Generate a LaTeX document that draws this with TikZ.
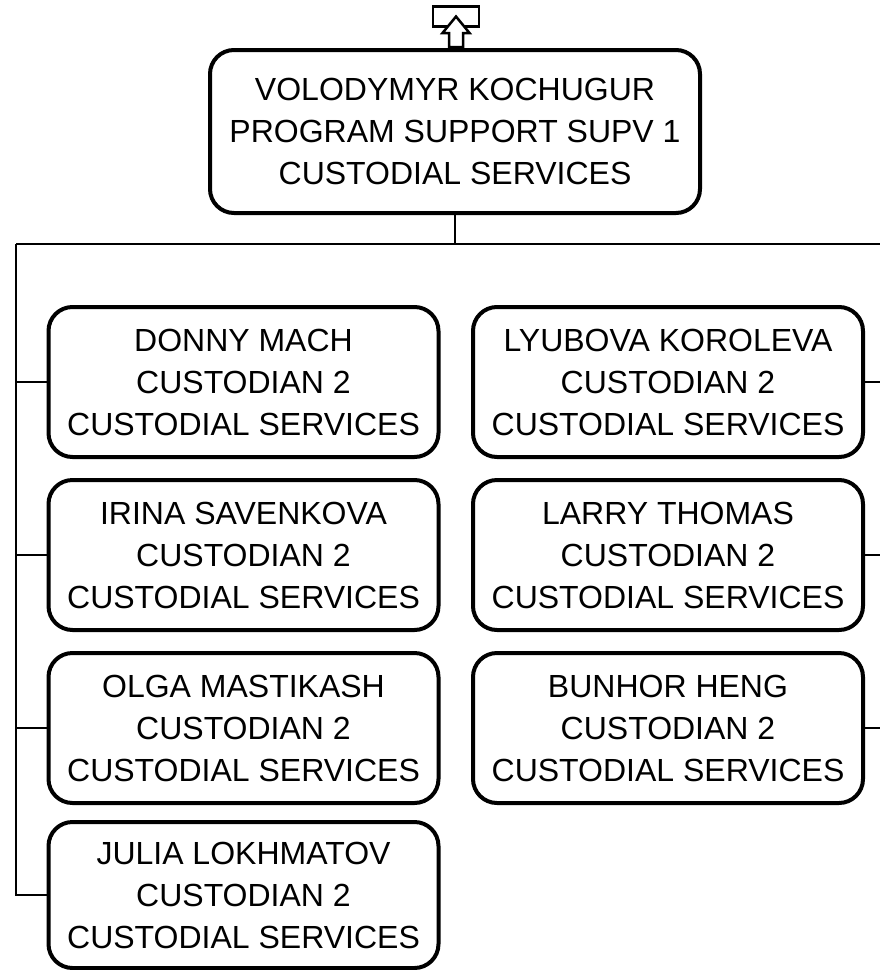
\documentclass[tikz,border=0pt]{standalone}
\usepackage{fontspec}
\setmainfont{Liberation Sans}
\begin{document}
\begin{tikzpicture}[x=1pt,y=-1pt,
  card/.style={draw=black,line width=4pt,rounded corners=24pt,fill=white,
    minimum width=390pt,minimum height=150pt,align=center,inner sep=0pt,
    font=\fontsize{32}{42}\selectfont},
  link/.style={draw=black,line width=2pt}]
\useasboundingbox (0,0) rectangle (880,970);
% top icon
\draw[line width=2.5pt] (433,6.5) rectangle (479,26.5);
\draw[line width=2.5pt,fill=white] (449,47) -- (449,33) -- (442.5,33) -- (456,16.5) -- (469.5,33) -- (463,33) -- (463,47) -- cycle;
\node[card,minimum width=490pt,minimum height=163pt] (top) at (455,131.5)
  {VOLODYMYR KOCHUGUR\\PROGRAM SUPPORT SUPV 1\\CUSTODIAL SERVICES};
\node[card] (l1) at (243.5,382) {DONNY MACH\\CUSTODIAN 2\\CUSTODIAL SERVICES};
\node[card] (l2) at (243.5,555) {IRINA SAVENKOVA\\CUSTODIAN 2\\CUSTODIAL SERVICES};
\node[card] (l3) at (243.5,728) {OLGA MASTIKASH\\CUSTODIAN 2\\CUSTODIAL SERVICES};
\node[card,minimum height=146pt] (l4) at (243.5,895) {JULIA LOKHMATOV\\CUSTODIAN 2\\CUSTODIAL SERVICES};
\node[card] (r1) at (668,382) {LYUBOVA KOROLEVA\\CUSTODIAN 2\\CUSTODIAL SERVICES};
\node[card] (r2) at (668,555) {LARRY THOMAS\\CUSTODIAN 2\\CUSTODIAL SERVICES};
\node[card] (r3) at (668,728) {BUNHOR HENG\\CUSTODIAN 2\\CUSTODIAL SERVICES};
\coordinate (bus) at (455,244);
\coordinate (bl) at (16,244);
\coordinate (br) at (883,244);
\draw[link] (top.south) -- (bus);
\draw[link] (bl) -- (br);
\draw[link] (bl) |- (l4.west);
\foreach \n in {l1,l2,l3} \draw[link] (\n.west) -- (\n.west -| bl);
\draw[link] (br) |- (r3.east);
\foreach \n in {r1,r2} \draw[link] (\n.east) -- (\n.east -| br);
\end{tikzpicture}
\end{document}
